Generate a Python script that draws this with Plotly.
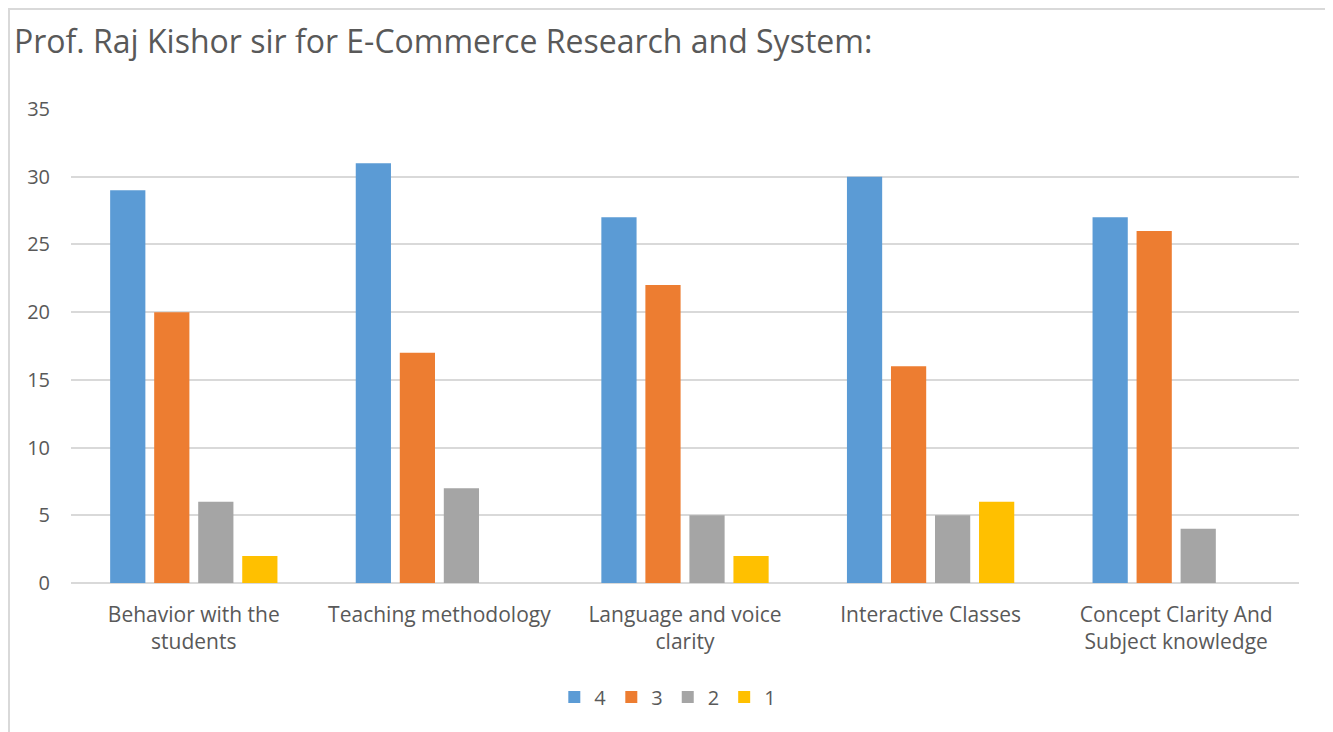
import plotly.graph_objects as go

categories = [
    "Behavior with the<br>students",
    "Teaching methodology",
    "Language and voice<br>clarity",
    "Interactive Classes",
    "Concept Clarity And<br>Subject knowledge",
]
series_names = ["4", "3", "2", "1"]
vals_4 = [29, 31, 27, 30, 27]
vals_3 = [20, 17, 22, 16, 26]
vals_2 = [6, 7, 5, 5, 4]
vals_1 = [2, None, 2, 6, None]
colors = ["#5B9BD5", "#ED7D31", "#A5A5A5", "#FFC000"]
y_ticks = [0, 5, 10, 15, 20, 25, 30, 35]
title_text = "Prof. Raj Kishor sir for E-Commerce Research and System:"

fig = go.Figure()
for name, vals, col in zip(series_names, [vals_4, vals_3, vals_2, vals_1], colors):
    fig.add_trace(go.Bar(x=categories, y=vals, name=name, marker=dict(color=col, line=dict(width=0))))

font_family = "Open Sans, Noto Sans, sans-serif"
grey = "#595959"
fig.update_layout(
    width=1325, height=724,
    paper_bgcolor="white", plot_bgcolor="white",
    margin=dict(l=63, r=34, t=101, b=149),
    barmode="group", bargap=0.283, bargroupgap=0.2,
    title=dict(text=title_text, x=6 / 1325, xref="container", xanchor="left",
               y=1 - 34 / 724, yref="container", yanchor="middle",
               font=dict(family=font_family, size=32, color=grey), pad=dict(l=0)),
    font=dict(family=font_family, color=grey),
    legend=dict(orientation="h", x=0.486, xanchor="center", y=-0.2405, yanchor="middle",
                font=dict(size=20, color=grey), traceorder="normal", itemwidth=30),
    showlegend=True,
)
fig.update_yaxes(range=[0, 35], tickvals=y_ticks, showgrid=True, gridcolor="#D9D9D9", gridwidth=2,
                 zeroline=True, zerolinecolor="#D9D9D9", zerolinewidth=2, showline=False,
                 tickfont=dict(size=20, color=grey), ticklabelstandoff=20)
fig.update_xaxes(showline=False, tickfont=dict(size=21, color=grey), ticklabelstandoff=17)

fig.add_shape(type="rect", xref="paper", yref="paper",
              x0=(9 - 71) / 1228, x1=(1328 - 71) / 1228, y0=-0.5, y1=(583 - 9) / 474,
              line=dict(color="#D9D9D9", width=2), fillcolor="rgba(0,0,0,0)", layer="below")

fig.write_html("out.html")
